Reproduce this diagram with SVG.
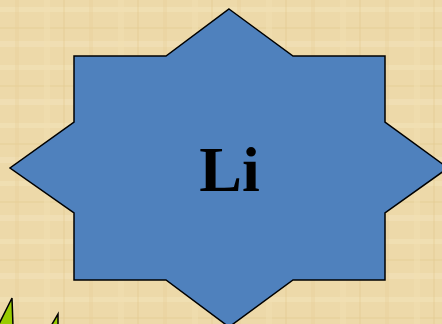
<svg xmlns="http://www.w3.org/2000/svg" width="442" height="324" viewBox="0 0 442 324">
  <defs>
    <pattern id="papyrus" width="74" height="58" patternUnits="userSpaceOnUse">
      <rect width="74" height="58" fill="#EDD9A9"/>
      <rect x="0" y="7" width="74" height="5" fill="#F2E2B8" opacity="0.6"/>
      <rect x="0" y="27" width="74" height="2" fill="#E3CA90" opacity="0.35"/>
      <rect x="0" y="41" width="74" height="6" fill="#F3E4BD" opacity="0.5"/>
      <rect x="15" y="0" width="4" height="58" fill="#E6CE96" opacity="0.35"/>
      <rect x="44" y="0" width="6" height="58" fill="#F1DFB2" opacity="0.5"/>
      <rect x="63" y="0" width="2" height="58" fill="#E1C78C" opacity="0.3"/>
    </pattern>
  </defs>
  <style>
    .star { fill: #4F81BD; stroke: #000; stroke-width: 1.5; stroke-linejoin: miter; }
    .label { font-family: "Liberation Serif", "Times New Roman", serif; font-weight: bold; font-size: 64px; fill: #000; }
    .leaf { fill: #99CC00; stroke: #000; stroke-width: 1.5; }
  </style>
  <rect width="442" height="324" fill="url(#papyrus)"/>
  <g id="star-li">
    <polygon class="star" points="229,9 293,56 385,56 385,122 448,168 385,213 385,280 293,280 229,327 166,280 74,280 74,213 10,168 74,122 74,56 166,56"/>
    <text class="label" x="229.5" y="191" text-anchor="middle">Li</text>
  </g>
  <g id="leaves">
    <polygon class="leaf" points="12,298 13,326 -2,326"/>
    <polygon class="leaf" points="58,314 58,326 51,326"/>
  </g>
</svg>
